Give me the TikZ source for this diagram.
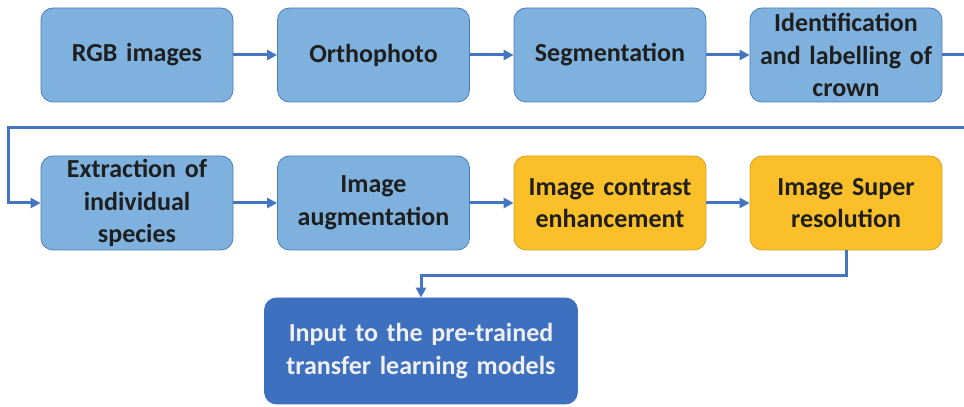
\documentclass[tikz,border=0pt]{standalone}
\usepackage{fontspec}
\setmainfont{Carlito}
\usetikzlibrary{arrows.meta}
\definecolor{boxblue}{HTML}{7EB1DD}
\definecolor{edgeblue}{HTML}{4A7EBB}
\definecolor{boxorange}{HTML}{FBBF2A}
\definecolor{edgeorange}{HTML}{D8A21E}
\definecolor{boxdark}{HTML}{3D70BF}
\definecolor{linkblue}{HTML}{4574C0}
\begin{document}
\begin{tikzpicture}[x=1pt,y=1pt,
  stage/.style={draw=edgeblue, fill=boxblue, line width=0.8pt, rounded corners=12pt,
    minimum width=192pt, minimum height=94pt, text width=184pt, inner sep=0pt,
    align=center, text=black!88, font=\bfseries\fontsize{26}{32.5}\selectfont},
  enhance/.style={stage, draw=edgeorange, fill=boxorange},
  final/.style={stage, draw=boxdark, fill=boxdark, text=white!94!black,
    minimum width=313pt, minimum height=106pt, text width=300pt},
  link/.style={draw=linkblue, line width=3pt, -{Triangle[length=10pt,width=10pt]}}]
\useasboundingbox (0,0) rectangle (964,407);

% first row
\node[stage] (rgb)   at (137,352)   {RGB images};
\node[stage] (ortho) at (373.5,352) {Orthophoto};
\node[stage] (seg)   at (610,352)   {Segmentation};
\node[stage] (ident) at (846,352)   {Identification\\ and labelling of\\ crown};

% second row
\node[stage]   (extr) at (137,204)   {Extraction of\\ individual\\ species};
\node[stage]   (aug)  at (373.5,204) {Image\\ augmentation};
\node[enhance] (con)  at (610,204)   {Image contrast\\ enhancement};
\node[enhance] (sup)  at (846,204)   {Image Super\\ resolution};

% result
\node[final] (out) at (421,56) {Input to the pre-trained\\ transfer learning models};

% bends of the connectors
\coordinate (wrapR) at (978,279);
\coordinate (wrapL) at (8,279);
\coordinate (drop)  at (421,131);

\draw[link] (rgb) -- (ortho);
\draw[link] (ortho) -- (seg);
\draw[link] (seg) -- (ident);
\draw[link] (ident.east) -| (wrapR) -- (wrapL) |- (extr.west);
\draw[link] (extr) -- (aug);
\draw[link] (aug) -- (con);
\draw[link] (con) -- (sup);
\draw[link] (sup.south) |- (drop) -- (out.north);
\end{tikzpicture}
\end{document}
